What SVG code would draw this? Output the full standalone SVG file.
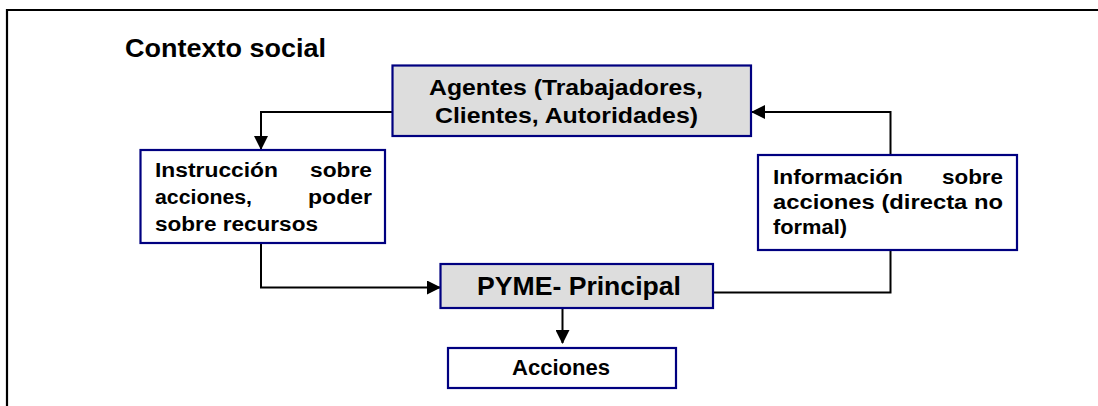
<svg xmlns="http://www.w3.org/2000/svg" width="1098" height="406" viewBox="0 0 1098 406">
<style>
.box{stroke:#000080;stroke-width:2.2}
.gray{fill:#dddddd}
.white{fill:#ffffff}
.t{font-family:"Liberation Sans",Arial,sans-serif;font-weight:bold;fill:#000}
.c{fill:none;stroke:#000;stroke-width:2}
</style>
<defs>
<marker id="ah" markerUnits="userSpaceOnUse" markerWidth="14" markerHeight="14" viewBox="0 0 14 14" refX="13" refY="7" orient="auto">
<path d="M0,0 L14,7 L0,14 Z" fill="#000"/>
</marker>
</defs>
<rect width="1098" height="406" fill="#fff"/>
<path d="M7,406 V10 H1098" fill="none" stroke="#000" stroke-width="2.2"/>
<text class="t" x="125" y="57" font-size="26" textLength="201" lengthAdjust="spacingAndGlyphs">Contexto social</text>

<g id="connectors">
<path class="c" d="M392,112 H261 V149" marker-end="url(#ah)"/>
<path class="c" d="M261,243 V287.5 H440" marker-end="url(#ah)"/>
<path class="c" d="M713,292.5 H890.5 V250"/>
<path class="c" d="M890.5,155 V112 H752" marker-end="url(#ah)"/>
<path class="c" d="M562.5,308 V343" marker-end="url(#ah)"/>
</g>

<g id="agentes">
<rect class="box gray" x="392.5" y="65.5" width="358.5" height="70.5"/>
<text class="t" x="429" y="95" font-size="22.5" textLength="274" lengthAdjust="spacingAndGlyphs">Agentes (Trabajadores,</text>
<text class="t" x="435" y="123" font-size="22.5" textLength="263" lengthAdjust="spacingAndGlyphs">Clientes, Autoridades)</text>
</g>

<g id="instruccion">
<rect class="box white" x="140.5" y="150" width="244.5" height="93"/>
<text class="t" x="155" y="176.5" font-size="20" textLength="123" lengthAdjust="spacingAndGlyphs">Instrucción</text>
<text class="t" x="310" y="176.5" font-size="20" textLength="62" lengthAdjust="spacingAndGlyphs">sobre</text>
<text class="t" x="155" y="203.5" font-size="20" textLength="97" lengthAdjust="spacingAndGlyphs">acciones,</text>
<text class="t" x="308" y="203.5" font-size="20" textLength="64" lengthAdjust="spacingAndGlyphs">poder</text>
<text class="t" x="155" y="230.5" font-size="20" textLength="163" lengthAdjust="spacingAndGlyphs">sobre recursos</text>
</g>

<g id="informacion">
<rect class="box white" x="758" y="155" width="259" height="95"/>
<text class="t" x="773" y="184" font-size="20.5" textLength="130" lengthAdjust="spacingAndGlyphs">Información</text>
<text class="t" x="942" y="184" font-size="20.5" textLength="61" lengthAdjust="spacingAndGlyphs">sobre</text>
<text class="t" x="773" y="209" font-size="20.5" textLength="230" lengthAdjust="spacingAndGlyphs">acciones (directa no</text>
<text class="t" x="773" y="234" font-size="20.5" textLength="74" lengthAdjust="spacingAndGlyphs">formal)</text>
</g>

<g id="pyme">
<rect class="box gray" x="440.5" y="264" width="272.5" height="44"/>
<text class="t" x="477" y="295" font-size="26" textLength="204" lengthAdjust="spacingAndGlyphs">PYME- Principal</text>
</g>

<g id="acciones">
<rect class="box white" x="448" y="348" width="228" height="40"/>
<text class="t" x="512" y="375" font-size="22" textLength="98" lengthAdjust="spacingAndGlyphs">Acciones</text>
</g>
</svg>
